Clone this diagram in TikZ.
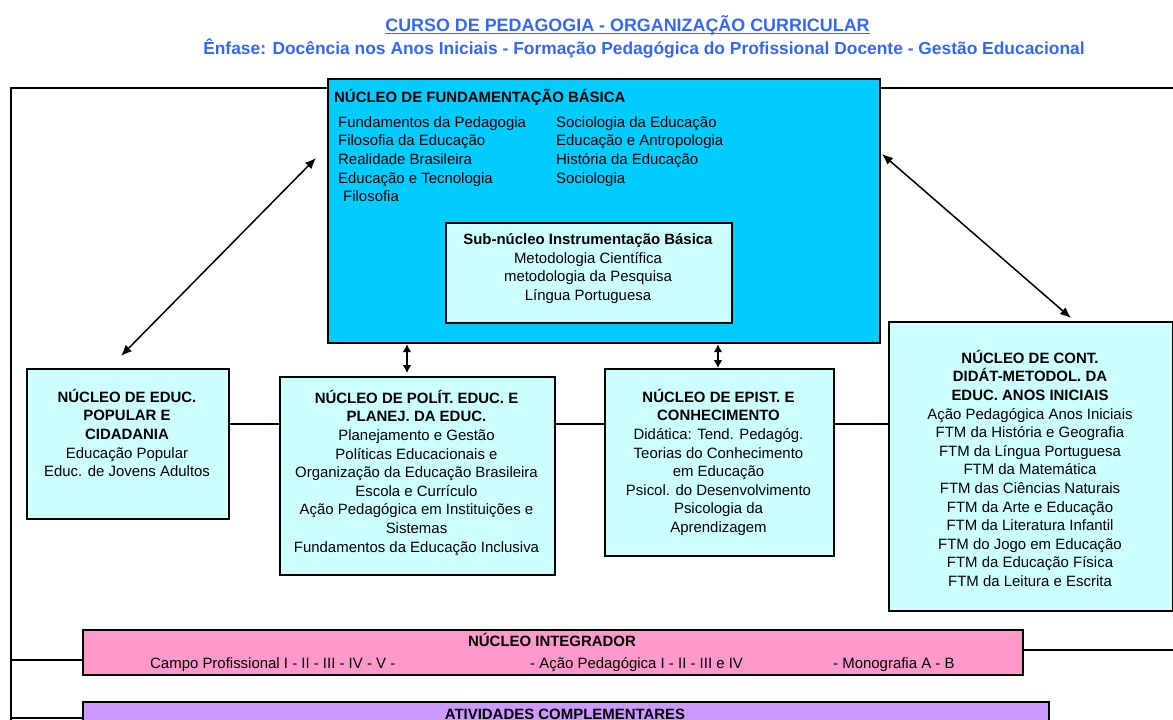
\documentclass[tikz,border=0pt]{standalone}
\usepackage{fontspec}
\setmainfont{Liberation Sans}
\usetikzlibrary{arrows.meta}
\definecolor{fundc}{HTML}{00CCFF}
\definecolor{lightc}{HTML}{CCFFFF}
\definecolor{pinkc}{HTML}{FF99CC}
\definecolor{purpc}{HTML}{CC99FF}
\definecolor{titc}{HTML}{3366FF}
\newcommand\bodyf{\fontsize{14.95}{18.6}\selectfont}
\newcommand\fl{\rule{0pt}{15pt}}
\begin{document}
\begin{tikzpicture}[x=1pt,y=-1pt,
  nbox/.style={draw=black, line width=2.2pt, anchor=north west, inner sep=0pt},
  txt/.style={inner sep=0pt, font=\bodyf, align=center, anchor=north},
  ltxt/.style={inner sep=0pt, font=\bodyf, align=left, anchor=north west},
  btxt/.style={inner sep=0pt, font=\bodyf, anchor=base west},
  conn/.style={line width=2pt},
  darr/.style={line width=1.5pt, {Latex[length=11pt,width=9pt]}-{Latex[length=11pt,width=9pt]}},
  varr/.style={line width=1.8pt, {Latex[length=8pt,width=9pt]}-{Latex[length=8pt,width=9pt]}}]
\useasboundingbox (0,0) rectangle (1173,720);
% title
\node[inner sep=0pt, anchor=base, text=titc, font=\fontsize{17.9}{21}\selectfont\bfseries] (t1) at (627.5,31) {CURSO DE PEDAGOGIA - ORGANIZAÇÃO CURRICULAR};
\draw[titc, line width=1.3pt] ([yshift=-2.6pt]t1.base west) -- ([yshift=-2.6pt]t1.base east);
\node[inner sep=0pt, anchor=base, text=titc, font=\fontsize{17.4}{20}\selectfont\bfseries] (t2) at (644,54) {Ênfase: Docência nos Anos Iniciais - Formação Pedagógica do Profissional Docente - Gestão Educacional};
% boxes
\node[nbox, fill=fundc, minimum width=552pt, minimum height=264pt] (fb) at (327,78) {};
\node[nbox, fill=lightc, minimum width=286pt, minimum height=100pt] (sub) at (445,222) {};
\node[nbox, fill=lightc, minimum width=202pt, minimum height=150pt] (pop) at (26,368) {};
\node[nbox, fill=lightc, minimum width=275pt, minimum height=198pt] (pol) at (279,376) {};
\node[nbox, fill=lightc, minimum width=229pt, minimum height=187pt] (epi) at (604,368) {};
\node[nbox, fill=lightc, minimum width=284pt, minimum height=289pt] (cont) at (888,321) {};
\node[nbox, fill=pinkc, minimum width=940pt, minimum height=45pt] (integ) at (82,629) {};
\node[nbox, fill=purpc, minimum width=966pt, minimum height=45pt] (ativ) at (82,701) {};
% top box text
\node[btxt, font=\bodyf\bfseries] (fbh) at (334,102) {NÚCLEO DE FUNDAMENTAÇÃO BÁSICA};
\node[ltxt] (fbl) at (338,112) {\fl Fundamentos da Pedagogia\\Filosofia da Educação\\Realidade Brasileira\\Educação e Tecnologia\\\hspace*{5pt}Filosofia};
\node[ltxt] (fbr) at (556,112) {\fl Sociologia da Educação\\Educação e Antropologia\\História da Educação\\Sociologia};
\node[txt] (subt) at (588,229.5) {\fl\textbf{Sub-núcleo Instrumentação Básica}\\Metodologia Científica\\metodologia da Pesquisa\\Língua Portuguesa};
% middle boxes text
\node[txt] (popt) at (127,387) {\fl\textbf{NÚCLEO DE EDUC.}\\\textbf{POPULAR E}\\\textbf{CIDADANIA}\\Educação Popular\\Educ. de Jovens Adultos};
\node[txt] (polt) at (416.5,388) {\fl\textbf{NÚCLEO DE POLÍT. EDUC. E}\\\textbf{PLANEJ. DA EDUC.}\\Planejamento e Gestão\\Políticas Educacionais e\\Organização da Educação Brasileira\\Escola e Currículo\\Ação Pedagógica em Instituições e\\Sistemas\\Fundamentos da Educação Inclusiva};
\node[txt] (epit) at (718.5,387) {\fl\textbf{NÚCLEO DE EPIST. E}\\\textbf{CONHECIMENTO}\\Didática: Tend. Pedagóg.\\Teorias do Conhecimento\\em Educação\\Psicol. do Desenvolvimento\\Psicologia da\\Aprendizagem};
\node[txt] (contt) at (1030,348) {\fl\textbf{NÚCLEO DE CONT.}\\\textbf{DIDÁT-METODOL. DA}\\\textbf{EDUC. ANOS INICIAIS}\\Ação Pedagógica Anos Iniciais\\FTM da História e Geografia\\FTM da Língua Portuguesa\\FTM da Matemática\\FTM das Ciências Naturais\\FTM da Arte e Educação\\FTM da Literatura Infantil\\FTM do Jogo em Educação\\FTM da Educação Física\\FTM da Leitura e Escrita};
% bottom boxes text
\node[inner sep=0pt, anchor=base, font=\bodyf\bfseries] (intt) at (552,646) {NÚCLEO INTEGRADOR};
\node[btxt] (int1) at (150,668) {Campo Profissional I - II - III - IV - V -};
\node[btxt] (int2) at (530,668) {- Ação Pedagógica I - II - III e IV};
\node[btxt] (int3) at (833,668) {- Monografia A - B};
\node[inner sep=0pt, anchor=base, font=\bodyf\bfseries] (ativt) at (565,719) {ATIVIDADES COMPLEMENTARES};
% frame lines
\coordinate (ftl) at (11,88);
\coordinate (fbot) at (11,724);
\coordinate (ftr) at (1176,88);
\coordinate (ibl) at (11,660);
\coordinate (ibr) at (1176,650);
\coordinate (abl) at (11,718);
\draw[conn] (fb.west |- ftl) -- (ftl) -- (fbot);
\draw[conn] (fb.east |- ftl) -- (ftr);
\draw[conn] (ibl) -- (integ.west |- ibl);
\draw[conn] (integ.east |- ibr) -- (ibr);
\draw[conn] (abl) -- (ativ.west |- abl);
% horizontal bus
\coordinate (bus) at (0,424);
\draw[conn] (pop.east |- bus) -- (pol.west |- bus);
\draw[conn] (pol.east |- bus) -- (epi.west |- bus);
\draw[conn] (epi.east |- bus) -- (cont.west |- bus);
% vertical arrows
\coordinate (va1) at (407,0);
\coordinate (va2) at (718,0);
\draw[varr] (fb.south -| va1) -- ([yshift=3pt]pol.north -| va1);
\draw[varr] (fb.south -| va2) -- (epi.north -| va2);
% diagonal arrows
\coordinate (da1) at (121,356);
\coordinate (da2) at (316,158);
\coordinate (db1) at (882,154);
\coordinate (db2) at (1071,318);
\draw[darr] (da1) -- (da2);
\draw[darr] (db1) -- (db2);
\end{tikzpicture}
\end{document}
